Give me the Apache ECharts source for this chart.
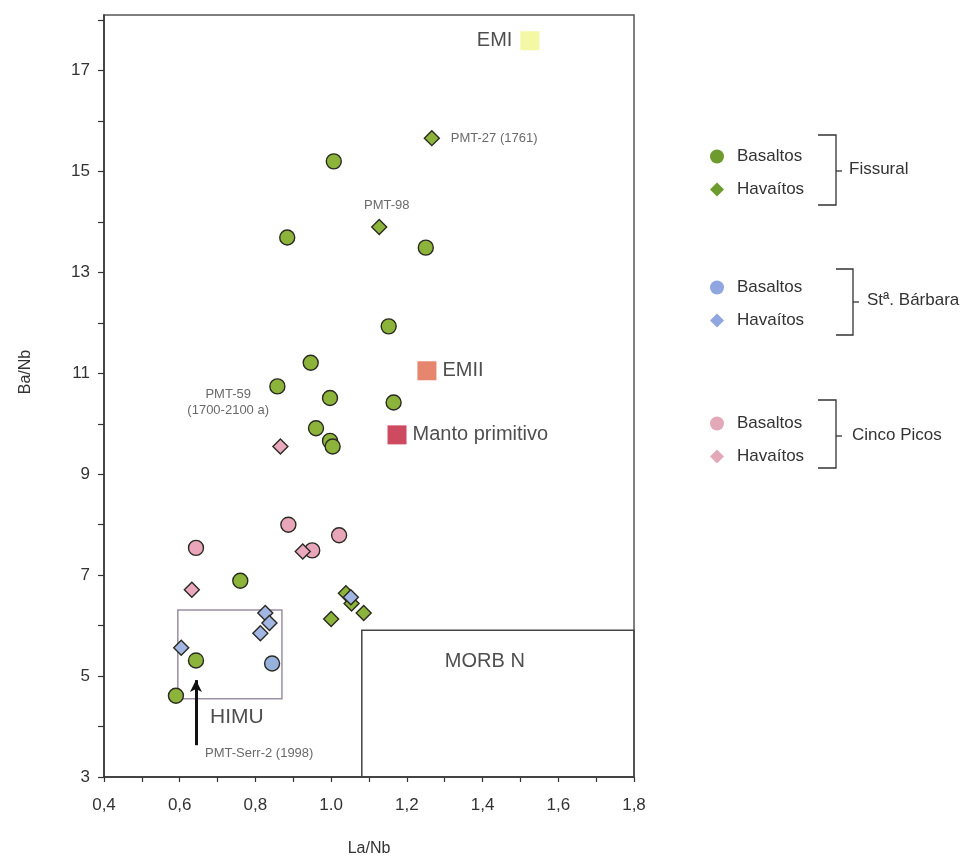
<!DOCTYPE html>
<html><head><meta charset="utf-8">
<script src="https://cdn.jsdelivr.net/npm/echarts@6/dist/echarts.min.js"></script>
<style>html,body{margin:0;padding:0;background:#fff}#c{width:977px;height:859px}</style>
</head><body><div id="c"></div>
<script>
// ---- Data (La/Nb, Ba/Nb) ----
const fissuralBasaltos = [[1.007,15.20],[0.884,13.69],[1.250,13.49],[1.152,11.93],[0.946,11.21],[0.858,10.74],[0.997,10.51],[1.165,10.42],[0.960,9.91],[0.997,9.66],[1.004,9.55],[0.760,6.89],[0.643,5.31],[0.590,4.61]];
const fissuralHavaitos = [[1.266,15.66],[1.127,13.90],[1.039,6.64],[1.054,6.44],[1.086,6.25],[1.000,6.13]];
const barbaraBasaltos = [[0.844,5.25]];
const barbaraHavaitos = [[0.826,6.25],[0.837,6.05],[0.813,5.85],[0.604,5.56],[1.052,6.56]];
const cincoBasaltos = [[0.887,8.00],[0.643,7.54],[1.021,7.79],[0.950,7.49]];
const cincoHavaitos = [[0.866,9.55],[0.925,7.47],[0.632,6.71]];
// reservoir end-members
const reservoirNames = ['EMI','EMII','Manto primitivo'];
const reservoirPoints = [[1.525,17.59],[1.253,11.05],[1.174,9.78]];
// fields
const himuBox = [[0.595,4.55],[0.870,6.31]];
const morbBox = [[1.081,3.0],[1.8,5.91]];
// arrow (PMT-Serr-2)
const arrowLine = [[0.643,3.63],[0.643,4.92]];
// text annotations
const annotTexts = ['PMT-27 (1761)','PMT-98','PMT-59\n(1700-2100 a)','PMT-Serr-2 (1998)','HIMU','MORB N'];
const annotPos = [[1.316,15.66],[1.147,14.32],[0.728,10.42],[0.81,3.46],[0.751,4.19],[1.406,5.28]];
const annotAlign = ['left','center','center','center','center','center'];
const annotSize = [13,13,13,13,21,20];
// axis ticks and labels
const xTickLabels = ['0,4','0,6','0,8','1.0','1,2','1,4','1,6','1,8'];
const yTickValues = [3,4,5,6,7,8,9,10,11,12,13,14,15,16,17,18];
const yTickLabels = ['3','5','7','9','11','13','15','17'];

const FONT = '"Liberation Sans", Arial, sans-serif';
const BORDER = '#2a2a22';
const C = {
  green:'#8cb43a', blue:'#96b2dc', blueD:'#a2b6e4', pink:'#e9a6ba', pinkD:'#eaa9bf',
  lgGreen:'#6e9b2e', lgBlue:'#8fa6e0', lgPink:'#e3a9b9'
};

function pts(arr, symbol, size, color){
  return {type:'scatter', symbol, symbolSize:size, data:arr, z:5,
    itemStyle:{color, borderColor:BORDER, borderWidth:1.4, opacity:1}};
}

const series = [
  {type:'scatter', data:[], silent:true, z:1,
   markArea:{silent:true, itemStyle:{color:'rgba(0,0,0,0)', borderColor:'#9a8fa3', borderWidth:1.5},
     data:[[{coord:himuBox[0]},{coord:himuBox[1]}]]}},
  {type:'scatter', data:[], silent:true, z:1,
   markArea:{silent:true, itemStyle:{color:'rgba(0,0,0,0)', borderColor:'#444', borderWidth:1.5},
     data:[[{coord:morbBox[0]},{coord:morbBox[1]}]]}},
  {type:'scatter', data:[], silent:true, z:2,
   markLine:{silent:true, symbol:['none','arrow'], symbolSize:[9,12], label:{show:false},
     lineStyle:{color:'#111', width:3, type:'solid'},
     data:[[{coord:arrowLine[0]},{coord:arrowLine[1]}]]}},
  Object.assign(pts(fissuralBasaltos,'circle',15,C.green),{name:'Basaltos Fissural'}),
  Object.assign(pts(fissuralHavaitos,'diamond',15,C.green),{name:'Havaítos Fissural'}),
  Object.assign(pts(barbaraBasaltos,'circle',15,C.blue),{name:'Basaltos StB'}),
  Object.assign(pts(barbaraHavaitos,'diamond',15,C.blueD),{name:'Havaítos StB'}),
  Object.assign(pts(cincoBasaltos,'circle',15,C.pink),{name:'Basaltos Cinco'}),
  Object.assign(pts(cincoHavaitos,'diamond',15,C.pinkD),{name:'Havaítos Cinco'}),
  {type:'scatter', symbol:'rect', symbolSize:19, z:4, silent:true,
   data: reservoirPoints.map((p,i)=>({value:p,
     itemStyle:{color:['#f1f58c','#e0684a','#c21d3a'][i]},
     label:{show:true, formatter:reservoirNames[i], position: i===0?'left':'right', distance: i===0?8:6,
       fontSize:20, color:'#222', fontFamily:FONT}}))},
  {type:'scatter', symbolSize:0, z:6, silent:true,
   data: annotPos.map((p,i)=>({value:p,
     label:{show:true, position:'inside', formatter:annotTexts[i], align:annotAlign[i], verticalAlign:'middle',
       fontSize:annotSize[i], color: annotSize[i]>15?'#222':'#444', fontFamily:FONT, lineHeight:annotSize[i]+3}}))}
];

function legend(top, names, color){
  return {orient:'vertical', left:705, top, itemWidth:14, itemHeight:14, itemGap:16, selectedMode:false,
    formatter: n => n.split(' ')[0],
    textStyle:{fontSize:17, color:'#333', fontFamily:FONT, padding:[0,0,0,8]},
    data: names.map((n,i)=>({name:n, icon: i===0?'circle':'diamond', itemStyle:{color, borderWidth:0}}))};
}

const option = {
  animation:false,
  backgroundColor:'#fff',
  textStyle:{fontFamily:FONT},
  grid:{left:104, right:343, top:15, bottom:82, outerBoundsMode:'none', containLabel:false,
    show:true, borderColor:'#555', borderWidth:1.5, backgroundColor:'rgba(0,0,0,0)'},
  xAxis:{type:'value', min:0.4, max:1.8, interval:0.2,
    axisLine:{show:true, lineStyle:{color:'#333', width:1.5}},
    axisTick:{show:true, length:5, lineStyle:{color:'#333', width:1.2}},
    minorTick:{show:true, splitNumber:2, length:5, lineStyle:{color:'#333', width:1.2}},
    splitLine:{show:false}, minorSplitLine:{show:false},
    axisLabel:{fontSize:17, color:'#333', margin:20, fontFamily:FONT,
      formatter: v => xTickLabels[Math.round((v-0.4)/0.2)] ?? ''},
    name:'La/Nb', nameLocation:'middle', nameGap:64, nameTextStyle:{fontSize:16, color:'#333', fontFamily:FONT}},
  yAxis:{type:'value', min:3, max:18.1,
    axisLine:{show:true, lineStyle:{color:'#333', width:1.5}},
    axisTick:{show:true, length:6, customValues:yTickValues, lineStyle:{color:'#333', width:1.2}},
    splitLine:{show:false},
    axisLabel:{fontSize:17, color:'#333', margin:14, fontFamily:FONT,
      customValues: yTickLabels.map(Number), formatter: v => String(v)},
    name:'Ba/Nb', nameLocation:'middle', nameGap:70, nameTextStyle:{fontSize:16, color:'#333', fontFamily:FONT, padding:[0,0,0,48]}},
  legend:[
    legend(143, ['Basaltos Fissural','Havaítos Fissural'], C.lgGreen),
    legend(274, ['Basaltos StB','Havaítos StB'], C.lgBlue),
    legend(410, ['Basaltos Cinco','Havaítos Cinco'], C.lgPink)
  ],
  graphic:[
    {type:'polyline', shape:{points:[[818,135],[836,135],[836,205],[818,205]]}, style:{stroke:'#333', lineWidth:1.3, fill:null}},
    {type:'line', shape:{x1:836,y1:171,x2:842,y2:171}, style:{stroke:'#333', lineWidth:1.3}},
    {type:'text', left:849, top:161, style:{text:'Fissural', fontSize:17, fill:'#333', fontFamily:FONT}},
    {type:'polyline', shape:{points:[[836,269],[853,269],[853,335],[836,335]]}, style:{stroke:'#333', lineWidth:1.3, fill:null}},
    {type:'line', shape:{x1:853,y1:302,x2:859,y2:302}, style:{stroke:'#333', lineWidth:1.3}},
    {type:'text', left:867, top:292, style:{text:'Stª. Bárbara', fontSize:17, fill:'#333', fontFamily:FONT}},
    {type:'polyline', shape:{points:[[818,400],[836,400],[836,468],[818,468]]}, style:{stroke:'#333', lineWidth:1.3, fill:null}},
    {type:'line', shape:{x1:836,y1:436,x2:842,y2:436}, style:{stroke:'#333', lineWidth:1.3}},
    {type:'text', left:852, top:427, style:{text:'Cinco Picos', fontSize:17, fill:'#333', fontFamily:FONT}}
  ],
  series
};
const chart = echarts.init(document.getElementById('c'));
chart.setOption(option);
</script>
</body></html>
